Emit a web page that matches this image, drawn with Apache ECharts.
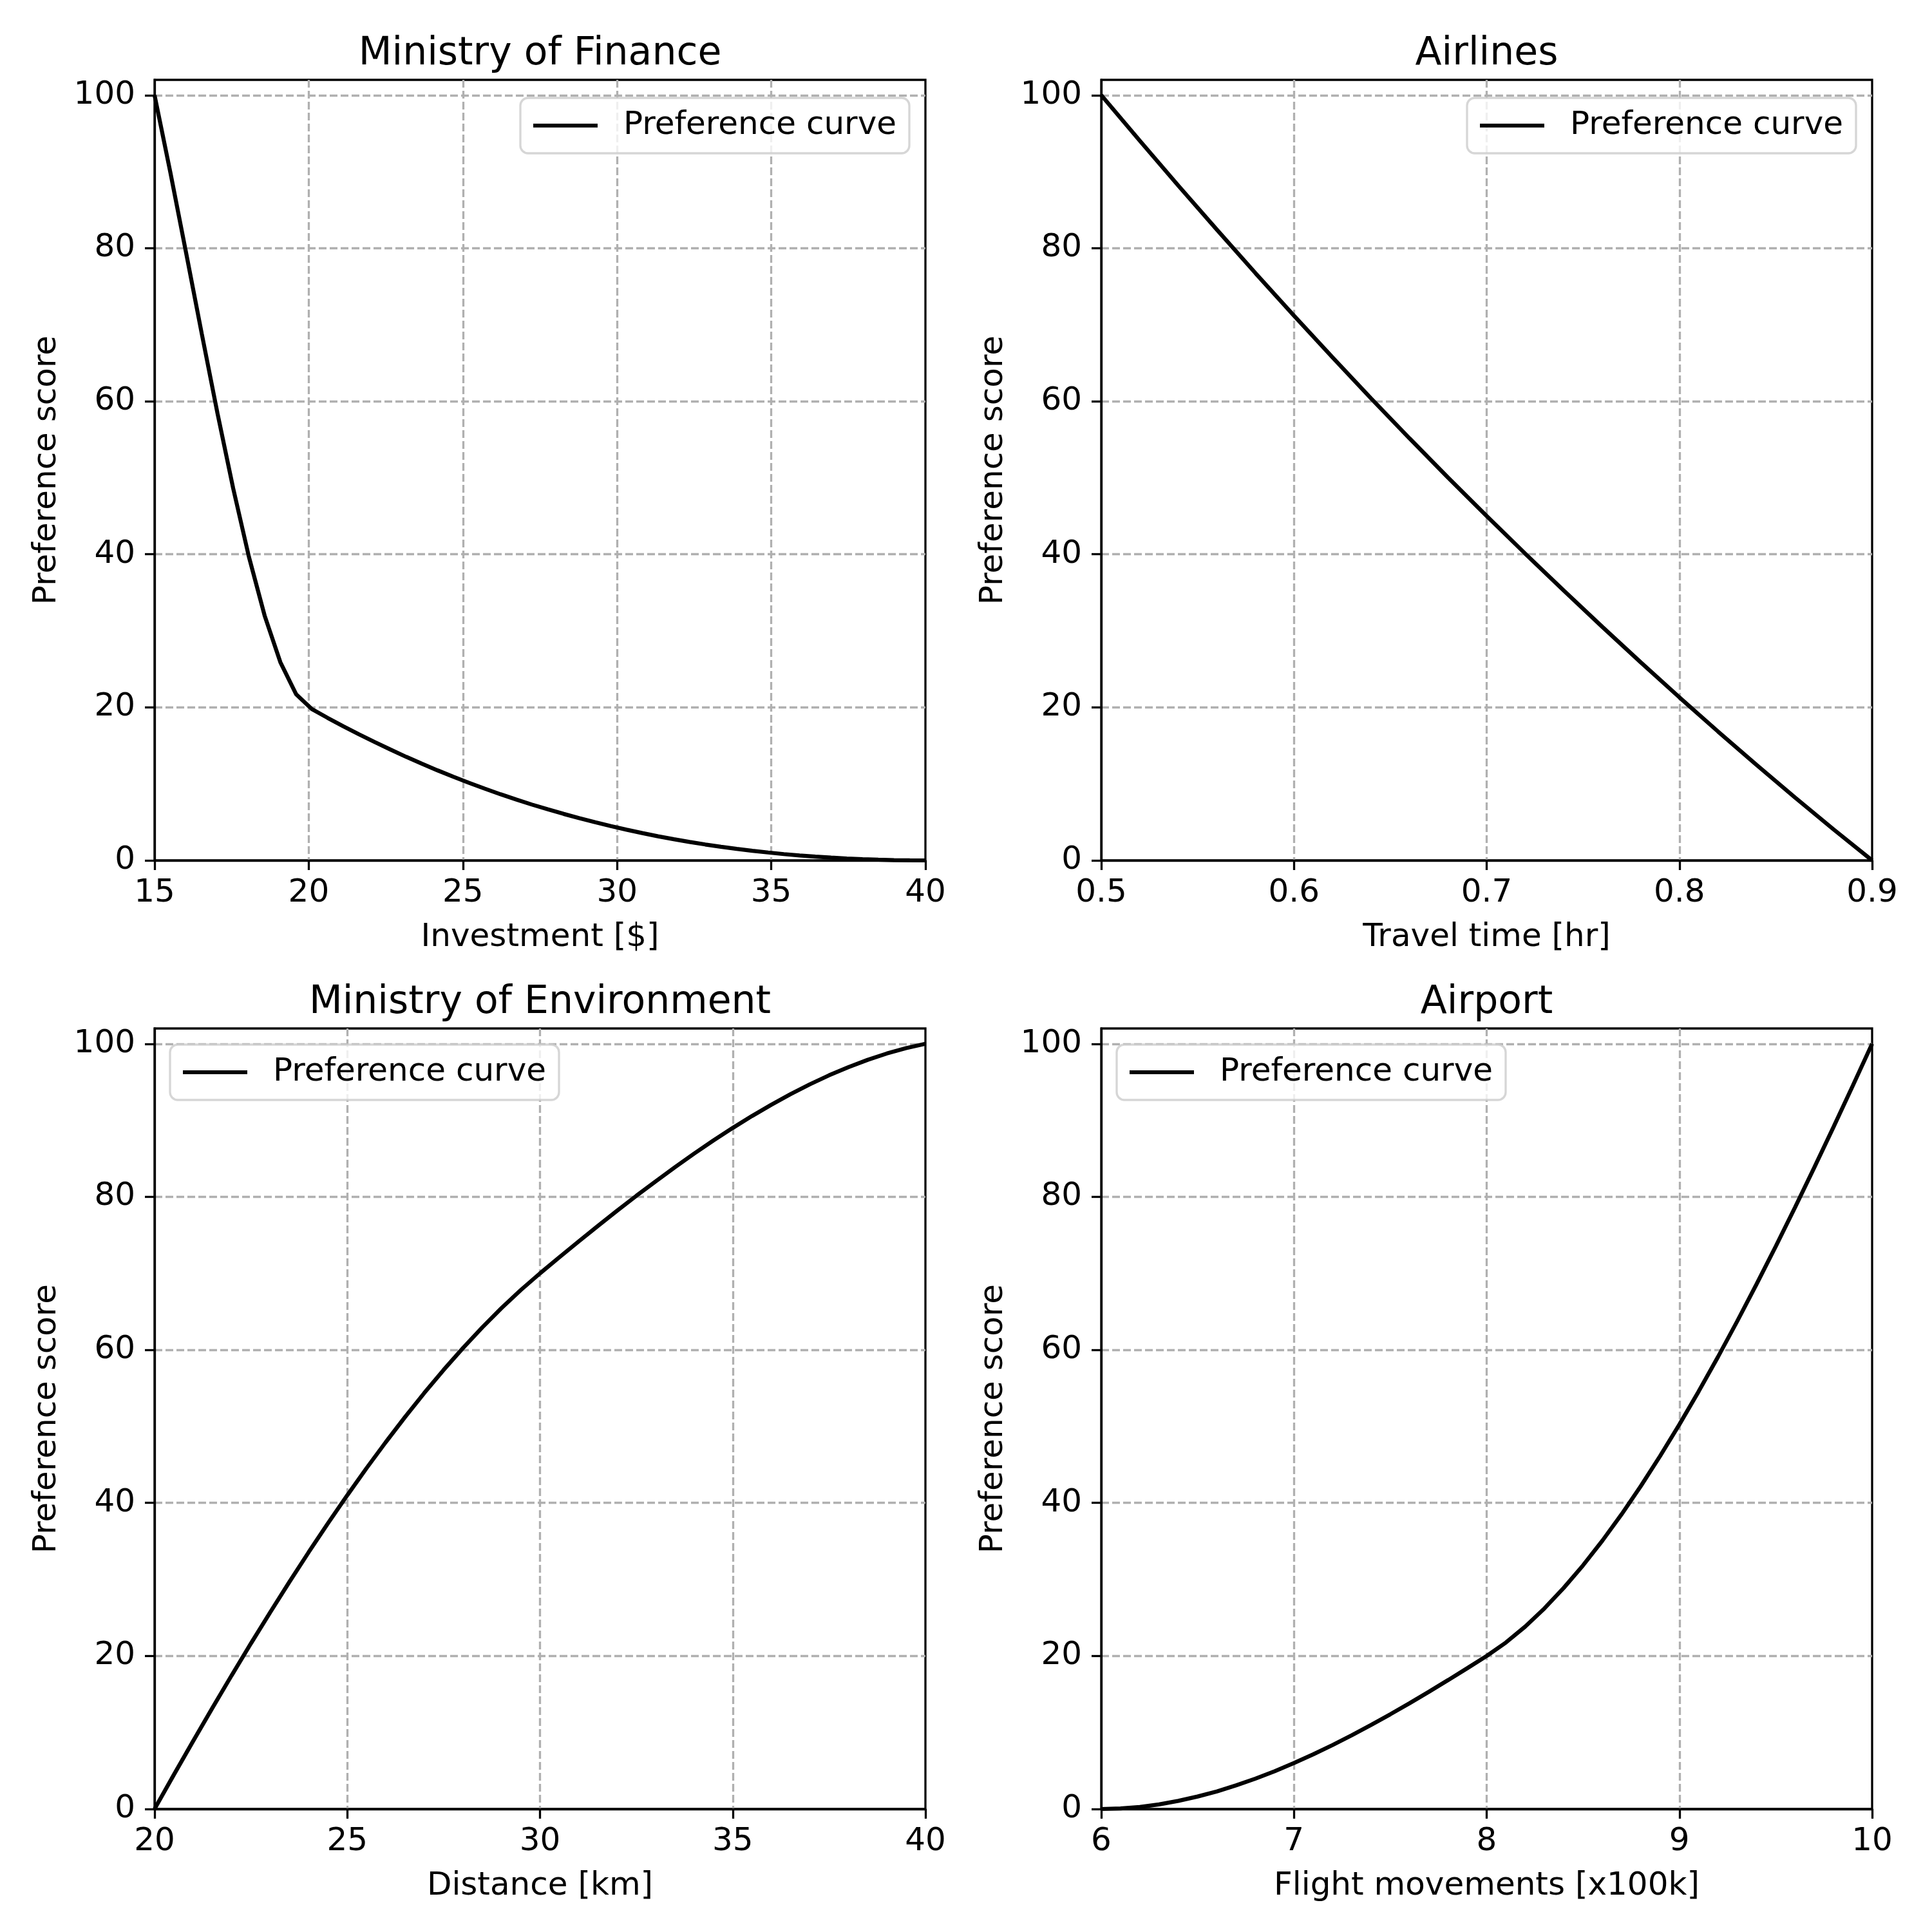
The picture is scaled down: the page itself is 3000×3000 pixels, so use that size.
<!DOCTYPE html>
<html><head><meta charset="utf-8">
<script src="https://cdn.jsdelivr.net/npm/echarts@6/dist/echarts.min.js"></script>
<style>html,body{margin:0;padding:0;background:#fff}#c{width:3000px;height:3000px}</style>
</head><body><div id="c"></div>
<script>
// ---------------- data ----------------
const titles = ['Ministry of Finance', 'Airlines', 'Ministry of Environment', 'Airport'];
const xNames = ['Investment [$]', 'Travel time [hr]', 'Distance [km]', 'Flight movements [x100k]'];
const yName = 'Preference score';
const seriesName = 'Preference curve';
const yTicks = [0, 20, 40, 60, 80, 100];

const financeTicks = [15, 20, 25, 30, 35, 40];
const financeX = [15.00, 15.51, 16.02, 16.53, 17.04, 17.55, 18.06, 18.57, 19.08, 19.59,
  20.10, 20.61, 21.12, 21.63, 22.14, 22.65, 23.16, 23.67, 24.18, 24.69,
  25.20, 25.71, 26.22, 26.73, 27.24, 27.76, 28.27, 28.78, 29.29, 29.80,
  30.31, 30.82, 31.33, 31.84, 32.35, 32.86, 33.37, 33.88, 34.39, 34.90,
  35.41, 35.92, 36.43, 36.94, 37.45, 37.96, 38.47, 38.98, 39.49, 40.00];
const financeY = [100, 89.96, 79.46, 68.84, 58.44, 48.61, 39.67, 31.99, 25.89, 21.72,
  19.77, 18.63, 17.53, 16.47, 15.46, 14.48, 13.53, 12.63, 11.76, 10.93,
  10.13, 9.37, 8.64, 7.95, 7.29, 6.67, 6.07, 5.51, 4.98, 4.48,
  4.01, 3.57, 3.15, 2.77, 2.41, 2.08, 1.78, 1.50, 1.25, 1.03,
  0.82, 0.64, 0.49, 0.36, 0.25, 0.16, 0.09, 0.04, 0.01, 0];

const airlinesTicks = [0.5, 0.6, 0.7, 0.8, 0.9];
const airlinesX = [0.50, 0.52, 0.54, 0.56, 0.58, 0.60, 0.62, 0.64, 0.66, 0.68, 0.70,
  0.72, 0.74, 0.76, 0.78, 0.80, 0.82, 0.84, 0.86, 0.88, 0.90];
const airlinesY = [100, 94.05, 88.18, 82.42, 76.75, 71.19, 65.73, 60.38, 55.14, 50.01, 45.0,
  40.09, 35.26, 30.52, 25.87, 21.31, 16.85, 12.48, 8.22, 4.05, 0];

const environmentTicks = [20, 25, 30, 35, 40];
const environmentX = [20, 20.5, 21, 21.5, 22, 22.5, 23, 23.5, 24, 24.5, 25,
  25.5, 26, 26.5, 27, 27.5, 28, 28.5, 29, 29.5, 30,
  30.5, 31, 31.5, 32, 32.5, 33, 33.5, 34, 34.5, 35,
  35.5, 36, 36.5, 37, 37.5, 38, 38.5, 39, 39.5, 40];
const environmentY = [0, 4.47, 8.87, 13.20, 17.46, 21.63, 25.70, 29.69, 33.57, 37.34, 41.0,
  44.54, 47.95, 51.23, 54.38, 57.38, 60.22, 62.92, 65.45, 67.81, 70.0,
  72.09, 74.15, 76.18, 78.18, 80.13, 82.02, 83.87, 85.65, 87.36, 89.0,
  90.56, 92.03, 93.41, 94.70, 95.88, 96.94, 97.90, 98.73, 99.43, 100];

const airportTicks = [6, 7, 8, 9, 10];
const airportX = [6.0, 6.1, 6.2, 6.3, 6.4, 6.5, 6.6, 6.7, 6.8, 6.9, 7.0,
  7.1, 7.2, 7.3, 7.4, 7.5, 7.6, 7.7, 7.8, 7.9, 8.0,
  8.1, 8.2, 8.3, 8.4, 8.5, 8.6, 8.7, 8.8, 8.9, 9.0,
  9.1, 9.2, 9.3, 9.4, 9.5, 9.6, 9.7, 9.8, 9.9, 10.0];
const airportY = [0, 0.07, 0.27, 0.60, 1.06, 1.63, 2.30, 3.09, 3.97, 4.94, 6.0,
  7.14, 8.35, 9.63, 10.98, 12.38, 13.82, 15.32, 16.85, 18.41, 20.0,
  21.76, 23.84, 26.22, 28.90, 31.84, 35.05, 38.51, 42.21, 46.13, 50.25,
  54.57, 59.07, 63.74, 68.57, 73.53, 78.62, 83.83, 89.14, 94.53, 100];

const panelsData = [
  { x: financeX, y: financeY, ticks: financeTicks },
  { x: airlinesX, y: airlinesY, ticks: airlinesTicks },
  { x: environmentX, y: environmentY, ticks: environmentTicks },
  { x: airportX, y: airportY, ticks: airportTicks }
];

// ---------------- layout / style ----------------
const FONT = 'DejaVu Sans';
const W = 1197, H = 1212;
const boxes = [
  { left: 240, top: 124 }, { left: 1710, top: 124 },
  { left: 240, top: 1597 }, { left: 1710, top: 1597 }
];
const legendRight = [true, true, false, false];
const gridStyle = { color: '#b0b0b0', width: 3.3, type: [12, 5] };
const blackLine = { color: '#000', width: 3.3 };

const option = {
  animation: false,
  backgroundColor: '#fff',
  title: [], grid: [], xAxis: [], yAxis: [], series: [], legend: []
};

panelsData.forEach((p, i) => {
  const b = boxes[i];
  const t = p.ticks;
  const step = Math.round((t[1] - t[0]) * 1e6) / 1e6;
  option.grid.push({
    left: b.left, top: b.top, width: W, height: H,
    show: true, borderColor: '#000', borderWidth: 3.3, backgroundColor: 'transparent'
  });
  option.title.push({
    text: titles[i], left: b.left + W / 2, top: b.top - 70, textAlign: 'center', padding: 0,
    textStyle: { fontFamily: FONT, fontSize: 60, fontWeight: 'normal', color: '#000' }
  });
  option.xAxis.push({
    gridIndex: i, type: 'value', min: t[0], max: t[t.length - 1], interval: step,
    name: xNames[i], nameLocation: 'middle', nameGap: 95,
    nameTextStyle: { fontFamily: FONT, fontSize: 50, color: '#000' },
    axisLine: { show: true, onZero: false, lineStyle: blackLine },
    axisTick: { show: true, inside: false, length: 15, lineStyle: blackLine, customValues: t },
    axisLabel: { margin: 26, fontFamily: FONT, fontSize: 50, color: '#000', customValues: t },
    splitLine: { show: true, showMinLine: false, showMaxLine: false, lineStyle: gridStyle }
  });
  option.yAxis.push({
    gridIndex: i, type: 'value', min: 0, max: 102, interval: 20,
    name: yName, nameLocation: 'middle', nameRotate: 90, nameGap: 142,
    nameTextStyle: { fontFamily: FONT, fontSize: 50, color: '#000' },
    axisLine: { show: true, onZero: false, lineStyle: blackLine },
    axisTick: { show: true, inside: false, length: 15, lineStyle: blackLine, customValues: yTicks },
    axisLabel: { margin: 30, fontFamily: FONT, fontSize: 50, color: '#000', customValues: yTicks },
    splitLine: { show: true, showMinLine: false, lineStyle: gridStyle }
  });
  option.series.push({
    type: 'line', name: seriesName, xAxisIndex: i, yAxisIndex: i,
    data: p.x.map((v, j) => [v, p.y[j]]),
    showSymbol: false, symbol: 'none', smooth: false, z: 3,
    lineStyle: { color: '#000', width: 6.25 }, itemStyle: { color: '#000' }
  });
  const lg = {
    data: [seriesName], top: b.top + (legendRight[i] ? 28 : 25), orient: 'horizontal', selectedMode: false,
    icon: 'rect', padding: [18, 20, 18, 20], itemWidth: 100, itemHeight: 6,
    itemStyle: { color: '#000' },
    textStyle: { fontFamily: FONT, fontSize: 50, color: '#000', lineHeight: 50, padding: [0, 0, 0, 35] },
    backgroundColor: 'rgba(255,255,255,0.8)', borderColor: 'rgba(204,204,204,0.8)',
    borderWidth: 3.3, borderRadius: 12
  };
  if (legendRight[i]) lg.right = 3000 - (b.left + W) + 25; else lg.left = b.left + 24;
  option.legend.push(lg);
});

const chart = echarts.init(document.getElementById('c'), null, { renderer: 'canvas', devicePixelRatio: 1 });
chart.setOption(option);
</script>
</body></html>
